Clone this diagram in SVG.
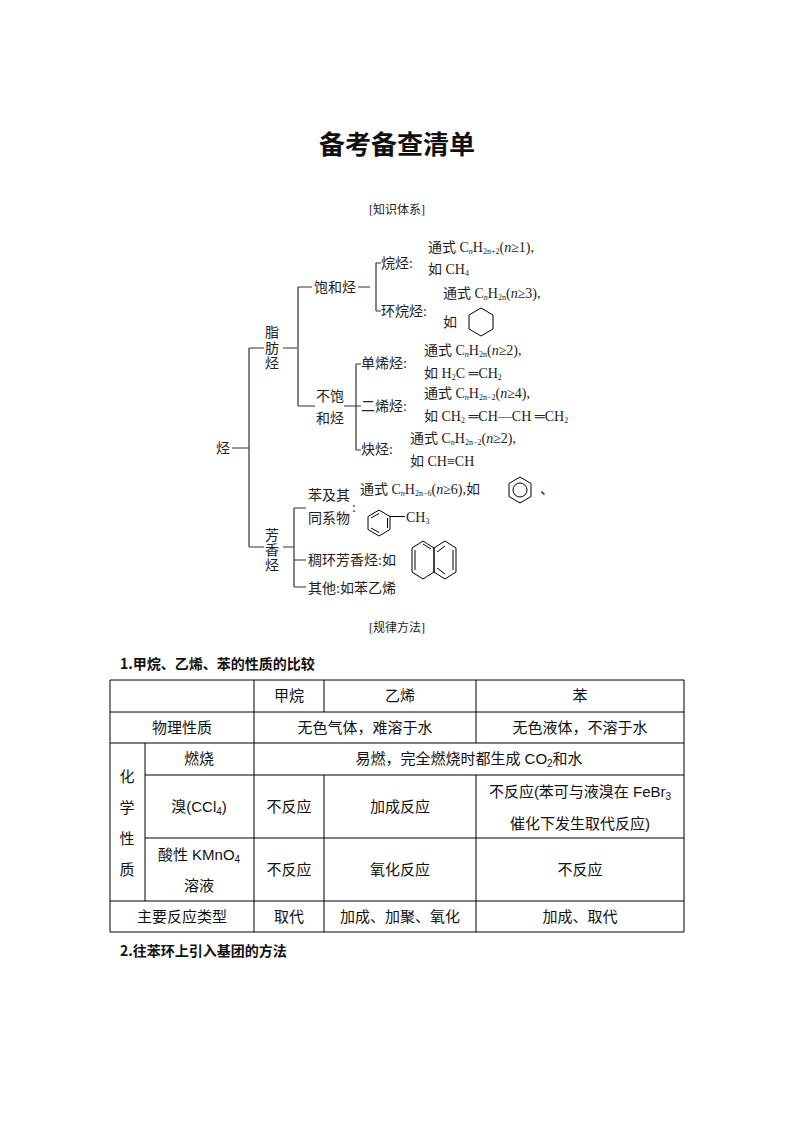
<svg xmlns="http://www.w3.org/2000/svg" width="794" height="1123" viewBox="0 0 794 1123">
<style>
.t{font-family:"Liberation Serif","Noto Sans CJK SC",serif;font-size:14px;fill:#222}
.s{font-size:8px}
.i{font-style:italic}
.tb{font-family:"Liberation Sans","Noto Sans CJK SC",sans-serif;font-size:15px;fill:#111}
.m{text-anchor:middle}
.ln{stroke:#333;stroke-width:1.2;fill:none}
.g{stroke:#000;stroke-width:1;fill:none}
</style>
<rect width="794" height="1123" fill="#fff"/>
<text x="397" y="154" class="m" style="font-family:'Noto Sans CJK SC',sans-serif;font-size:26px;font-weight:bold;fill:#111">备考备查清单</text>
<text x="397" y="214" class="t m" style="font-size:12px">[知识体系]</text>
<text x="397" y="632" class="t m" style="font-size:12px">[规律方法]</text>

<g id="connectors" class="ln">
<path d="M232 448H249M249 348V547M249 348H264M249 547H264"/>
<path d="M283 348H297M298 287V406M298 287H312M298 406H315"/>
<path d="M358 287H370M376 263V311M376 263H381M376 311H381"/>
<path d="M344 406H356M356 364V450M356 364H361M356 406H361M356 450H361"/>
<path d="M283 547H294M294 508V587M294 508H306M294 560H306M294 587H306"/>
</g>

<g id="root"><text x="216" y="453" class="t">烃</text></g>
<g id="zhifang"><text class="t" x="265" y="337">脂</text><text class="t" x="265" y="353">肪</text><text class="t" x="265" y="368">烃</text></g>
<g id="baohe"><text class="t" x="314" y="292">饱和烃</text></g>
<g id="wanting"><text class="t" x="381" y="268">烷烃:</text>
<text class="t" x="428" y="252">通式 C<tspan class="s i" dy="2">n</tspan><tspan dy="-2">H</tspan><tspan class="s" dy="2">2n+2</tspan><tspan dy="-2">(</tspan><tspan class="i">n</tspan>≥1),</text>
<text class="t" x="428" y="274">如 CH<tspan class="s" dy="2">4</tspan></text></g>
<g id="huanwan"><text class="t" x="381" y="316">环烷烃:</text>
<text class="t" x="443" y="298">通式 C<tspan class="s i" dy="2">n</tspan><tspan dy="-2">H</tspan><tspan class="s" dy="2">2n</tspan><tspan dy="-2">(</tspan><tspan class="i">n</tspan>≥3),</text>
<text class="t" x="443" y="327">如</text>
<polygon class="g" points="481,308 493,315 493,329 481,336 469,329 469,315"/></g>
<g id="buhe"><text class="t" x="316" y="401">不饱</text><text class="t" x="316" y="423">和烃</text></g>
<g id="danxi"><text class="t" x="361" y="368">单烯烃:</text>
<text class="t" x="424" y="355">通式 C<tspan class="s i" dy="2">n</tspan><tspan dy="-2">H</tspan><tspan class="s" dy="2">2n</tspan><tspan dy="-2">(</tspan><tspan class="i">n</tspan>≥2),</text>
<text class="t" x="424" y="378">如 H<tspan class="s" dy="2">2</tspan><tspan dy="-2">C ═CH</tspan><tspan class="s" dy="2">2</tspan></text></g>
<g id="erxi"><text class="t" x="361" y="411">二烯烃:</text>
<text class="t" x="424" y="398">通式 C<tspan class="s i" dy="2">n</tspan><tspan dy="-2">H</tspan><tspan class="s" dy="2">2n−2</tspan><tspan dy="-2">(</tspan><tspan class="i">n</tspan>≥4),</text>
<text class="t" x="424" y="421">如 CH<tspan class="s" dy="2">2</tspan><tspan dy="-2"> ═CH—CH ═CH</tspan><tspan class="s" dy="2">2</tspan></text></g>
<g id="que"><text class="t" x="361" y="454">炔烃:</text>
<text class="t" x="410" y="443">通式 C<tspan class="s i" dy="2">n</tspan><tspan dy="-2">H</tspan><tspan class="s" dy="2">2n−2</tspan><tspan dy="-2">(</tspan><tspan class="i">n</tspan>≥2),</text>
<text class="t" x="410" y="466">如 CH≡CH</text></g>
<g id="fangxiang"><text class="t" x="265" y="540">芳</text><text class="t" x="265" y="555">香</text><text class="t" x="265" y="570">烃</text></g>
<g id="ben"><text class="t" x="308" y="500">苯及其</text><text class="t" x="308" y="523">同系物</text><text class="t" x="352" y="512">:</text>
<text class="t" x="360" y="494">通式 C<tspan class="s i" dy="2">n</tspan><tspan dy="-2">H</tspan><tspan class="s" dy="2">2n−6</tspan><tspan dy="-2">(</tspan><tspan class="i">n</tspan>≥6),如</text>
<polygon class="g" points="520,477 531,483.5 531,496.5 520,503 509,496.5 509,483.5"/>
<circle class="g" cx="520" cy="490" r="7"/>
<text class="t" x="540" y="494">、</text>
<polygon class="g" points="379,510 390,516.5 390,529.5 379,536 368,529.5 368,516.5"/>
<path class="g" d="M371 518L379 513.5M371 528L379 532.5M387.5 518V528M390 516.5H405"/>
<text class="t" x="406" y="522">CH<tspan class="s" dy="2">3</tspan></text></g>
<g id="chouhuan"><text class="t" x="308" y="565">稠环芳香烃:如</text>
<polygon class="g" points="412,548 412,572 423,579 434,572 434,548 423,541"/>
<polygon class="g" points="434,548 445,541 456,548 456,572 445,579 434,572"/>
<path class="g" d="M415 550V570M437 552L445 546M437 568L445 574M453 550V570M423 544L431 549"/>
</g>
<g id="qita"><text class="t" x="308" y="593">其他:如苯乙烯</text></g>

<g id="table">
<text x="120" y="669" style="font-family:'Noto Sans CJK SC',sans-serif;font-size:14px;font-weight:bold;fill:#111">1.甲烷、乙烯、苯的性质的比较</text>
<path class="g" d="M110 680H684V932H110ZM110 712H684M110 743H684M145 775H684M145 838H684M110 901H684M145 743V901M254 680V932M324 680V712M324 775V932M476 680V743M476 775V932"/>
<g class="tb m">
<text x="289" y="701">甲烷</text><text x="400" y="701">乙烯</text><text x="580" y="701">苯</text>
<text x="182" y="733">物理性质</text><text x="365" y="733">无色气体，难溶于水</text><text x="580" y="733">无色液体，不溶于水</text>
<text x="127" y="782">化</text><text x="127" y="813">学</text><text x="127" y="844">性</text><text x="127" y="875">质</text>
<text x="199" y="764">燃烧</text><text x="469" y="764">易燃，完全燃烧时都生成 CO<tspan font-size="10" dy="3">2</tspan><tspan dy="-3">和水</tspan></text>
<text x="199" y="812">溴(CCl<tspan font-size="10" dy="3">4</tspan><tspan dy="-3">)</tspan></text>
<text x="289" y="812">不反应</text><text x="400" y="812">加成反应</text>
<text x="580" y="797">不反应(苯可与液溴在 FeBr<tspan font-size="10" dy="3">3</tspan></text>
<text x="580" y="829">催化下发生取代反应)</text>
<text x="199" y="860">酸性 KMnO<tspan font-size="10" dy="3">4</tspan></text><text x="199" y="891">溶液</text>
<text x="289" y="875">不反应</text><text x="400" y="875">氧化反应</text><text x="580" y="875">不反应</text>
<text x="182" y="922">主要反应类型</text><text x="289" y="922">取代</text><text x="400" y="922">加成、加聚、氧化</text><text x="580" y="922">加成、取代</text>
</g>
<text x="120" y="956" style="font-family:'Noto Sans CJK SC',sans-serif;font-size:14px;font-weight:bold;fill:#111">2.往苯环上引入基团的方法</text>
</g>
</svg>
